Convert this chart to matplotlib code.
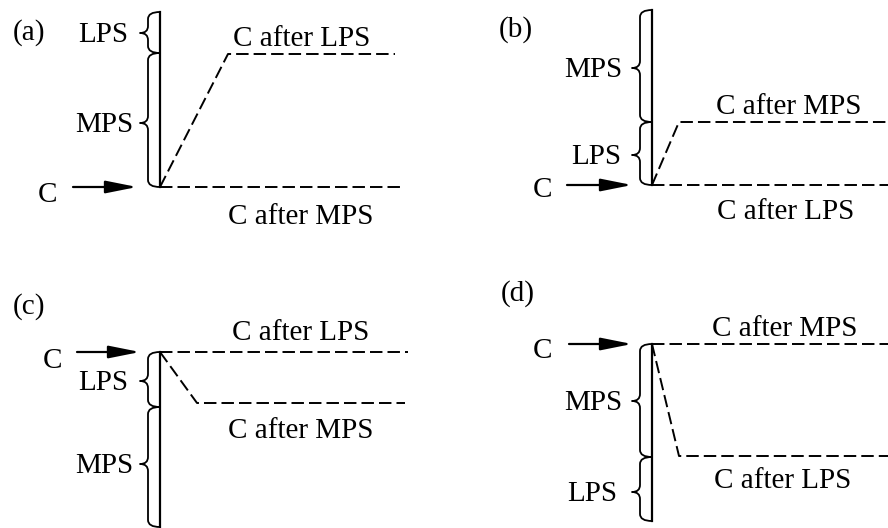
import matplotlib
matplotlib.use("Agg")
import matplotlib.pyplot as plt
from matplotlib.path import Path
from matplotlib.patches import PathPatch

plt.rcParams['font.family'] = ['Liberation Serif', 'DejaVu Serif']

# ---- diagram data (pixel units of the 888x528 canvas) ----
panel_labels = ['(a)', '(b)', '(c)', '(d)']
label_x = [13, 499, 13, 501]
label_y = [33, 30, 307, 294]

stem_x = [160, 652, 160, 652]
stem_top = [12, 10, 352, 344]
stem_bottom = [187, 185, 527, 521]
split_y = [53, 122, 407, 457]

upper_seg = ['LPS', 'MPS', 'LPS', 'MPS']
lower_seg = ['MPS', 'LPS', 'MPS', 'LPS']
upper_tip = [33, 68, 381, 401]
lower_tip = [123, 155, 464, 492]
upper_seg_x = [128, 622, 128, 622]
lower_seg_x = [133, 621, 133, 617]

c_level = [187, 185, 352, 344]
arrow_x0 = [73, 567, 77, 569]
arrow_x1 = [137, 632, 140, 632]
c_text_x = [57, 552, 62, 552]
c_text_y = [193, 188, 359, 349]

flat_end = [400, 888, 408, 888]
knee_x = [228, 679, 197, 679]
other_level = [54, 122, 403, 456]
other_end = [395, 888, 405, 888]

flat_text = ['C after MPS', 'C after LPS', 'C after LPS', 'C after MPS']
flat_text_x = [228, 717, 232, 712]
flat_text_y = [215, 210, 331, 327]
other_text = ['C after LPS', 'C after MPS', 'C after MPS', 'C after LPS']
other_text_x = [233, 716, 228, 714]
other_text_y = [37, 105, 429, 479]

FS = 21
LW_SOLID = 1.6
LW_BRACE = 1.3
LW_DASH = 1.4
DASH = (0, (6.4, 2.6))


def brace(ax, xr, y0, y1, yt, body=12, tip=20, r=7):
    xm = xr - body
    xt = xr - tip
    verts = [(xr, y0), (xm, y0), (xm, y0 + r),
             (xm, yt - r), (xm, yt), (xt, yt),
             (xm, yt), (xm, yt + r),
             (xm, y1 - r), (xm, y1), (xr, y1)]
    codes = [Path.MOVETO, Path.CURVE3, Path.CURVE3,
             Path.LINETO, Path.CURVE3, Path.CURVE3,
             Path.CURVE3, Path.CURVE3,
             Path.LINETO, Path.CURVE3, Path.CURVE3]
    ax.add_patch(PathPatch(Path(verts, codes), fill=False, lw=LW_BRACE,
                           color='black', capstyle='round', joinstyle='round'))


fig = plt.figure(figsize=(8.88, 5.28), dpi=100)
ax = fig.add_axes([0, 0, 1, 1])
ax.set_xlim(0, 888)
ax.set_ylim(528, 0)
ax.axis('off')

for i in range(4):
    ax.text(label_x[i], label_y[i], panel_labels[i], fontsize=FS,
            ha='left', va='center')
    # stem
    ax.plot([stem_x[i], stem_x[i]], [stem_top[i], stem_bottom[i]],
            color='black', lw=LW_SOLID)
    # braces
    brace(ax, stem_x[i], stem_top[i], split_y[i], upper_tip[i])
    brace(ax, stem_x[i], split_y[i], stem_bottom[i], lower_tip[i])
    ax.text(upper_seg_x[i], upper_tip[i] + 9, upper_seg[i], fontsize=FS,
            ha='right', va='baseline')
    ax.text(lower_seg_x[i], lower_tip[i] + 9, lower_seg[i], fontsize=FS,
            ha='right', va='baseline')
    # incoming arrow
    ax.annotate('', xy=(arrow_x1[i], c_level[i]), xytext=(arrow_x0[i], c_level[i]),
                arrowprops=dict(arrowstyle='-|>,head_length=1.9,head_width=0.38',
                                mutation_scale=10,
                                color='black', lw=1.6, shrinkA=0, shrinkB=0))
    ax.text(c_text_x[i], c_text_y[i] + 9, 'C', fontsize=FS,
            ha='right', va='baseline')
    # dashed output lines
    ax.plot([stem_x[i], flat_end[i]], [c_level[i], c_level[i]],
            color='black', lw=LW_DASH, linestyle=DASH)
    ax.plot([stem_x[i], knee_x[i], other_end[i]],
            [c_level[i], other_level[i], other_level[i]],
            color='black', lw=LW_DASH, linestyle=DASH)
    ax.text(flat_text_x[i], flat_text_y[i] + 9, flat_text[i], fontsize=FS,
            ha='left', va='baseline')
    ax.text(other_text_x[i], other_text_y[i] + 9, other_text[i], fontsize=FS,
            ha='left', va='baseline')

fig.savefig('out.png', dpi=100, facecolor='white')
